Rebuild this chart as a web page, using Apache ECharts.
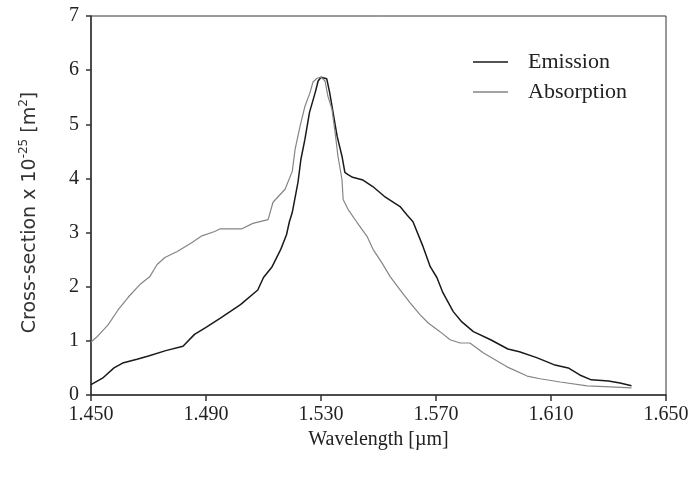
<!DOCTYPE html>
<html>
<head>
<meta charset="utf-8">
<script src="https://cdn.jsdelivr.net/npm/echarts@6/dist/echarts.min.js"></script>
<style>
  html, body { margin: 0; padding: 0; background: #fff; }
  #chart { width: 695px; height: 482px; }
</style>
</head>
<body>
<div id="chart"></div>
<script>
// wavelength in um, cross-section in 1e-25 m^2
var emissionWl = [1.450, 1.454, 1.458, 1.461, 1.466, 1.470, 1.476, 1.482, 1.486, 1.490, 1.495,
  1.502, 1.508, 1.510, 1.513, 1.516, 1.518, 1.519, 1.520, 1.522, 1.523, 1.5244, 1.526, 1.528,
  1.529, 1.530, 1.532, 1.533, 1.534, 1.5356, 1.5373, 1.5383, 1.5394, 1.541, 1.5446, 1.548,
  1.552, 1.5575, 1.560, 1.562, 1.5655, 1.568, 1.5703, 1.5724, 1.576, 1.579, 1.583, 1.589,
  1.595, 1.599, 1.605, 1.611, 1.616, 1.620, 1.624, 1.630, 1.634, 1.638];
var emission = [0.19, 0.31, 0.50, 0.59, 0.66, 0.72, 0.82, 0.90, 1.12, 1.25, 1.42,
  1.67, 1.94, 2.17, 2.37, 2.69, 2.96, 3.20, 3.37, 3.93, 4.35, 4.72, 5.22, 5.59,
  5.80, 5.87, 5.84, 5.59, 5.28, 4.78, 4.41, 4.11, 4.07, 4.02, 3.97, 3.85,
  3.67, 3.48, 3.32, 3.20, 2.74, 2.37, 2.17, 1.89, 1.54, 1.35, 1.17, 1.02,
  0.85, 0.80, 0.69, 0.56, 0.50, 0.37, 0.28, 0.26, 0.22, 0.17];

var absorptionWl = [1.450, 1.452, 1.456, 1.4594, 1.463, 1.467, 1.4705, 1.473, 1.4757, 1.480,
  1.485, 1.4886, 1.493, 1.495, 1.5025, 1.5063, 1.5116, 1.5133, 1.5175, 1.520, 1.521, 1.5227,
  1.5244, 1.5262, 1.5272, 1.5286, 1.530, 1.5314, 1.5324, 1.5338, 1.5349, 1.5359, 1.5373,
  1.5377, 1.5394, 1.5425, 1.546, 1.5481, 1.5512, 1.554, 1.5575, 1.561, 1.5645, 1.5673,
  1.5714, 1.5749, 1.5784, 1.5818, 1.5864, 1.5947, 1.6017, 1.6062, 1.6132, 1.6226, 1.6306, 1.638];
var absorption = [0.98, 1.07, 1.30, 1.57, 1.81, 2.04, 2.19, 2.41, 2.54, 2.65,
  2.81, 2.94, 3.02, 3.07, 3.07, 3.17, 3.24, 3.56, 3.80, 4.13, 4.54, 4.96,
  5.33, 5.59, 5.78, 5.85, 5.87, 5.80, 5.52, 5.28, 4.85, 4.41, 3.98,
  3.61, 3.43, 3.19, 2.93, 2.69, 2.44, 2.19, 1.94, 1.70, 1.48, 1.33,
  1.17, 1.02, 0.96, 0.96, 0.78, 0.52, 0.35, 0.30, 0.24, 0.17, 0.15, 0.13];

var xStart = 1.45; // axis starts here, data is plotted as offset from it
var yTicks = [0, 1, 2, 3, 4, 5, 6, 7];

function pairs(wl, vals) {
  return wl.map(function (w, i) { return [w - xStart, vals[i]]; });
}

var serif = 'Liberation Serif';
var myChart = echarts.init(document.getElementById('chart'));

myChart.setOption({
  animation: false,
  backgroundColor: '#fff',
  grid: { left: 91, right: 29, top: 16, bottom: 87, show: true, borderColor: '#333', borderWidth: 1 },
  legend: {
    orient: 'vertical',
    left: 473, top: 51, padding: 0,
    itemWidth: 35, itemHeight: 1.5, itemGap: 8,
    icon: 'rect',
    textStyle: { fontFamily: serif, fontSize: 22, lineHeight: 22, color: '#222', padding: [0, 0, 0, 15] },
    data: ['Emission', 'Absorption']
  },
  xAxis: {
    type: 'value',
    min: 0, max: 0.2, interval: 0.04,
    name: 'Wavelength [\u00b5m]',
    nameLocation: 'middle', nameGap: 35,
    nameTextStyle: { fontFamily: serif, fontSize: 20, color: '#222' },
    axisLine: { lineStyle: { color: '#333', width: 1.5 } },
    axisTick: { length: 6, lineStyle: { color: '#333', width: 1.5 } },
    axisLabel: {
      fontFamily: serif, fontSize: 20, color: '#222', margin: 10,
      formatter: function (v) { return (v + xStart).toFixed(3); }
    },
    splitLine: { show: false }
  },
  yAxis: {
    type: 'value',
    min: yTicks[0], max: yTicks[yTicks.length - 1], interval: 1,
    name: '{t|Cross-section x 10}{s|-25}{t| [m}{s|2}{t|]}',
    nameLocation: 'middle', nameGap: 49, nameRotate: 90,
    nameTextStyle: {
      color: '#333',
      padding: [0, 14, 0, 0],
      rich: {
        t: { fontFamily: 'DejaVu Sans', fontSize: 19, color: '#333', lineHeight: 24 },
        s: { fontFamily: 'DejaVu Sans', fontSize: 12, color: '#333', verticalAlign: 'top', lineHeight: 24, padding: [0, 0, 8, 0] }
      }
    },
    axisLine: { show: true, lineStyle: { color: '#333', width: 1.5 } },
    axisTick: { show: true, length: 5, lineStyle: { color: '#333', width: 1.5 } },
    axisLabel: { fontFamily: serif, fontSize: 20, color: '#222', margin: 12 },
    splitLine: { show: false }
  },
  series: [
    {
      name: 'Emission', type: 'line', showSymbol: false, symbol: 'none',
      color: '#1a1a1a',
      lineStyle: { width: 1.5, color: '#1a1a1a' },
      data: pairs(emissionWl, emission)
    },
    {
      name: 'Absorption', type: 'line', showSymbol: false, symbol: 'none',
      color: '#858585',
      lineStyle: { width: 1.2, color: '#858585' },
      data: pairs(absorptionWl, absorption)
    }
  ]
});

window.onresize = function () { myChart.resize(); };
</script>
</body>
</html>
